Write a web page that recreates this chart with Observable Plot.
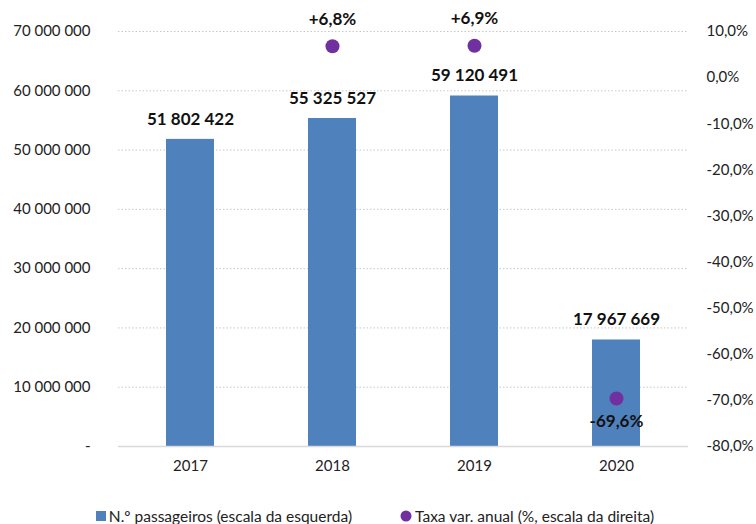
<!DOCTYPE html>
<html><head><meta charset="utf-8">
<script src="https://cdn.jsdelivr.net/npm/d3@7"></script>
<script src="https://cdn.jsdelivr.net/npm/@observablehq/plot@0.6"></script>
<style>
body{margin:0;background:#fff;font-family:Lato,"Open Sans",sans-serif;}
#legend{display:flex;justify-content:center;gap:48px;font-size:15.5px;color:#222;margin-top:27px;padding-right:6px;}
#legend span.item{display:flex;align-items:center;gap:3px;}
</style></head><body>
<div id="chart"></div>
<div id="legend"></div>
<script>
const years = ["2017","2018","2019","2020"];
const passengers = [51802422, 55325527, 59120491, 17967669];
const rateYears = ["2018","2019","2020"];
const rates = [6.8, 6.9, -69.6];
const rateLabels = ["+6,8%","+6,9%","-69,6%"];
const leftTicks = [0,10e6,20e6,30e6,40e6,50e6,60e6,70e6];
const rightTicks = [10,0,-10,-20,-30,-40,-50,-60,-70,-80];
const seriesNames = ["N.º passageiros (escala da esquerda)","Taxa var. anual (%, escala da direita)"];

const barColor = "#4f81bd", dotColor = "#7030a0";
const rMin = -80, rMax = 10, lMax = 70e6;
const toLeft = p => (p - rMin) / (rMax - rMin) * lMax;
const fromLeft = v => v / lMax * (rMax - rMin) + rMin;
const fmtNum = v => v === 0 ? "-" : d3.format(",")(v).replace(/,/g, " ");
const fmtPct = p => d3.format(".1f")(p).replace(".", ",").replace("−","-") + "%";

const bars = years.map((y,i)=>({year:y, value:passengers[i]}));
const dots = rateYears.map((y,i)=>({year:y, rate:rates[i], v:toLeft(rates[i]), label:rateLabels[i]}));

const chart = Plot.plot({
  width: 756, height: 480,
  marginTop: 31, marginBottom: 34, marginLeft: 118, marginRight: 68,
  style: {fontFamily: "Lato, 'Open Sans', sans-serif", fontSize: "15px", color: "#222"},
  x: {domain: years, paddingInner: 0.66, paddingOuter: 0.33, label: null},
  y: {domain: [0, lMax], label: null},
  marks: [
    Plot.gridY(leftTicks.filter(d=>d>0), {stroke: "#c8c8c8", strokeOpacity: 1, strokeDasharray: "1.5,2"}),
    Plot.barY(bars, {x: "year", y: "value", fill: barColor}),
    Plot.ruleY([0], {stroke: "#d9d9d9", strokeWidth: 1.5}),
    Plot.axisY(leftTicks, {anchor: "left", tickSize: 0, tickPadding: 28, tickFormat: fmtNum, label: null, fontSize: 15}),
    Plot.axisY(rightTicks.map(toLeft), {anchor: "right", tickSize: 0, tickPadding: 18, tickFormat: v => fmtPct(Math.round(fromLeft(v))), label: null, fontSize: 15}),
    Plot.axisX({tickSize: 0, tickPadding: 14, label: null, fontSize: 15}),
    Plot.text(bars, {x: "year", y: "value", text: d => fmtNum(d.value), dy: -20, fontWeight: "bold", fontSize: 17, fill: "#111"}),
    Plot.dot(dots, {x: "year", y: "v", r: 7, fill: dotColor}),
    Plot.text(dots.filter(d => d.rate >= 0), {x: "year", y: "v", text: "label", dy: -27, fontWeight: "bold", fontSize: 17, fill: "#111"}),
    Plot.text(dots.filter(d => d.rate < 0), {x: "year", y: "v", text: "label", dy: 23, fontWeight: "bold", fontSize: 17, fill: "#111"})
  ]
});
document.getElementById("chart").append(chart);

const leg = document.getElementById("legend");
leg.innerHTML = `<span class="item"><svg width="10" height="10"><rect width="10" height="10" fill="${barColor}"/></svg>${seriesNames[0]}</span>
<span class="item"><svg width="12" height="12"><circle cx="6" cy="6" r="5.5" fill="${dotColor}"/></svg>${seriesNames[1]}</span>`;
</script>
</body></html>
